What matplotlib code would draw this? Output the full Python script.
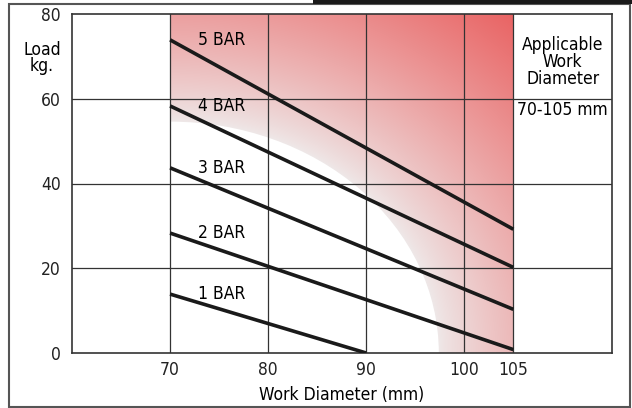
import numpy as np
import matplotlib
matplotlib.use('Agg')
from matplotlib import pyplot as plt
from matplotlib.patches import Ellipse, Rectangle

plt.rcParams['font.family'] = ['DejaVu Sans']
plt.rcParams['font.stretch'] = 'condensed'

# load (kg) against work diameter (mm) for each air pressure
pressures = ['1 BAR', '2 BAR', '3 BAR', '4 BAR', '5 BAR']
diam_start = [70, 70, 70, 70, 70]
diam_end = [90, 105, 105, 105, 105]
load_start = [13.9, 28.3, 43.7, 58.3, 73.9]
load_end = [0, 0.8, 10.3, 20.2, 29.2]

x_ticks = [70, 80, 90, 100, 105]
y_ticks = [0, 20, 40, 60, 80]

# applicable range (shaded) and the unreachable corner under it
work_range = (70, 105)
corner_radius_x = 27.4
corner_radius_y = 54.6

fig = plt.figure(figsize=(6.32, 4.08), dpi=100)
ax = fig.add_axes([72 / 632, 1 - 353 / 408, 540 / 632, 339 / 408])
ax.set_xlim(60, 115.06)
ax.set_ylim(0, 80)

# shaded gradient over the applicable range
gx, gy = np.meshgrid(np.linspace(70, 105, 300), np.linspace(0, 80, 300))
r = np.sqrt(((gx - 70) / corner_radius_x) ** 2 + (gy / corner_radius_y) ** 2)
t = np.clip((r - 1) / (r.max() - 1), 0, 1) ** 0.85
c0 = np.array([0.935, 0.91, 0.91])
c1 = np.array([0.915, 0.39, 0.39])
img = c0 + (c1 - c0) * t[..., None]
ax.imshow(img, extent=[70, 105, 0, 80], origin='lower', aspect='auto', zorder=0.5)
ax.add_patch(Ellipse((70, 0), 2 * corner_radius_x, 2 * corner_radius_y,
                     facecolor='white', edgecolor='none', zorder=1))

# grid
for yv in y_ticks[1:-1]:
    ax.axhline(yv, color='#333333', lw=0.9, zorder=2)
for xv in x_ticks:
    ax.axvline(xv, color='#333333', lw=0.9, zorder=2)

for s in ax.spines.values():
    s.set_color('#333333')
    s.set_linewidth(1.2)

# pressure lines
for name, x0, x1, y0, y1 in zip(pressures, diam_start, diam_end, load_start, load_end):
    ax.plot([x0, x1], [y0, y1], color='#1a1a1a', lw=2.6, solid_capstyle='butt', zorder=3)
    ax.text(75.3, y0, name, fontsize=12.5, ha='center', va='center', zorder=4)

ax.set_xticks(x_ticks)
ax.set_yticks(y_ticks)
ax.tick_params(length=0, labelsize=12.5, colors='#222222')
ax.tick_params(axis='x', pad=6)
ax.tick_params(axis='y', pad=8)

ax.text(110.03, 68.7, 'Applicable\nWork\nDiameter', fontsize=12.5, ha='center',
        va='center', linespacing=0.95, zorder=4)
ax.text(110.03, 57.3, '%d-%d mm' % work_range, fontsize=12.5, ha='center',
        va='center', zorder=4)

fig.text(42 / 632, 1 - 58 / 408, 'Load\nkg.', fontsize=12.5, ha='center',
         va='center', linespacing=0.9)
fig.text(342 / 632, 1 - 395 / 408, 'Work Diameter (mm)', fontsize=12.5,
         ha='center', va='center')

# outer frame and top bar
fig.patches.append(Rectangle((8.5 / 632, 1.5 / 408), 621 / 632, 403 / 408,
                             transform=fig.transFigure, fill=False,
                             edgecolor='#555555', lw=1.5))
fig.patches.append(Rectangle((313 / 632, 1 - 3.5 / 408), 319 / 632, 3.5 / 408,
                             transform=fig.transFigure, facecolor='#1a1a1a',
                             edgecolor='none'))

fig.savefig('out.png', dpi=100)
